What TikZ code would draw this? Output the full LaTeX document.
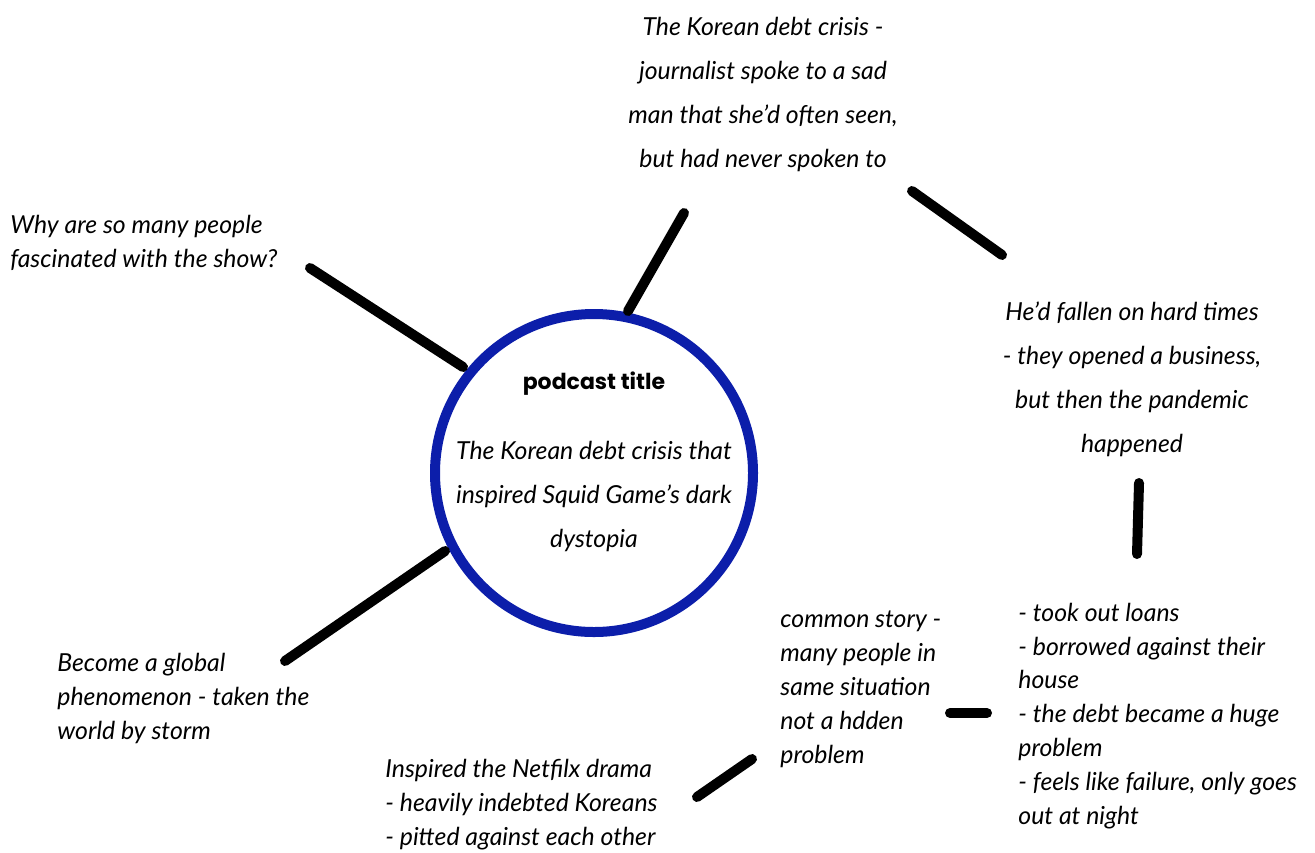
\documentclass[tikz,border=0pt]{standalone}
\usepackage{fontspec}
\setmainfont{Lato}
\newfontfamily\titlefont{Poppins}
\definecolor{ringblue}{RGB}{12,30,170}
\begin{document}
\begin{tikzpicture}[x=0.5pt,y=-0.5pt,
	note/.style={font=\itshape\fontsize{12.4}{16.9}\selectfont, inner sep=0pt, align=left, anchor=base west},
	wide/.style={font=\itshape\fontsize{12.4}{22}\selectfont, inner sep=0pt, align=center, anchor=base},
	spoke/.style={line width=5pt, line cap=round}]
	\useasboundingbox (0,0) rectangle (1315,852);
	% centre ring
	\node [circle, draw=ringblue, line width=5pt, minimum size=159pt, inner sep=0pt] (hub) at (594,473) {};
	\node [font=\titlefont\bfseries\fontsize{11}{13}\selectfont, inner sep=0pt, anchor=base] (title) at (594,389) {podcast title};
	\node [wide] (topic) at (594,547) {The Korean debt crisis that\\inspired Squid Game's dark\\dystopia};
	% notes round the ring (placed by their last line)
	\node [wide] (journo) at (763,167) {The Korean debt crisis -\\journalist spoke to a sad\\man that she'd often seen,\\but had never spoken to};
	\node [wide] (hardtimes) at (1132,452) {He'd fallen on hard times\\- they opened a business,\\but then the pandemic\\happened};
	\node [note] (why) at (10,267) {Why are so many people\\fascinated with the show?};
	\node [note] (global) at (57,739) {Become a global\\phenomenon - taken the\\world by storm};
	\node [note] (netflix) at (385,845) {Inspired the Netfilx drama\\- heavily indebted Koreans\\- pitted against each other};
	\node [note] (common) at (780,763) {common story -\\many people in\\same situation\\not a hdden\\problem};
	\node [note] (loans) at (1018,824) {- took out loans\\- borrowed against their\\house\\- the debt became a huge\\problem\\- feels like failure, only goes\\out at night};
	% spoke ends
	\coordinate (t1) at (628,311); \coordinate (t2) at (684,213);
	\coordinate (w1) at (463,367); \coordinate (w2) at (310,268);
	\coordinate (g1) at (445,551); \coordinate (g2) at (285,661);
	\coordinate (j1) at (912,191); \coordinate (j2) at (1002,255);
	\coordinate (h1) at (1139,483); \coordinate (h2) at (1137,554);
	\coordinate (c1) at (950,713); \coordinate (c2) at (987,713);
	\coordinate (n1) at (697,797); \coordinate (n2) at (752,759);
	\draw [spoke] (t1) -- (t2);
	\draw [spoke] (w1) -- (w2);
	\draw [spoke] (g1) -- (g2);
	\draw [spoke] (j1) -- (j2);
	\draw [spoke] (h1) -- (h2);
	\draw [spoke] (c1) -- (c2);
	\draw [spoke] (n1) -- (n2);
\end{tikzpicture}
\end{document}
